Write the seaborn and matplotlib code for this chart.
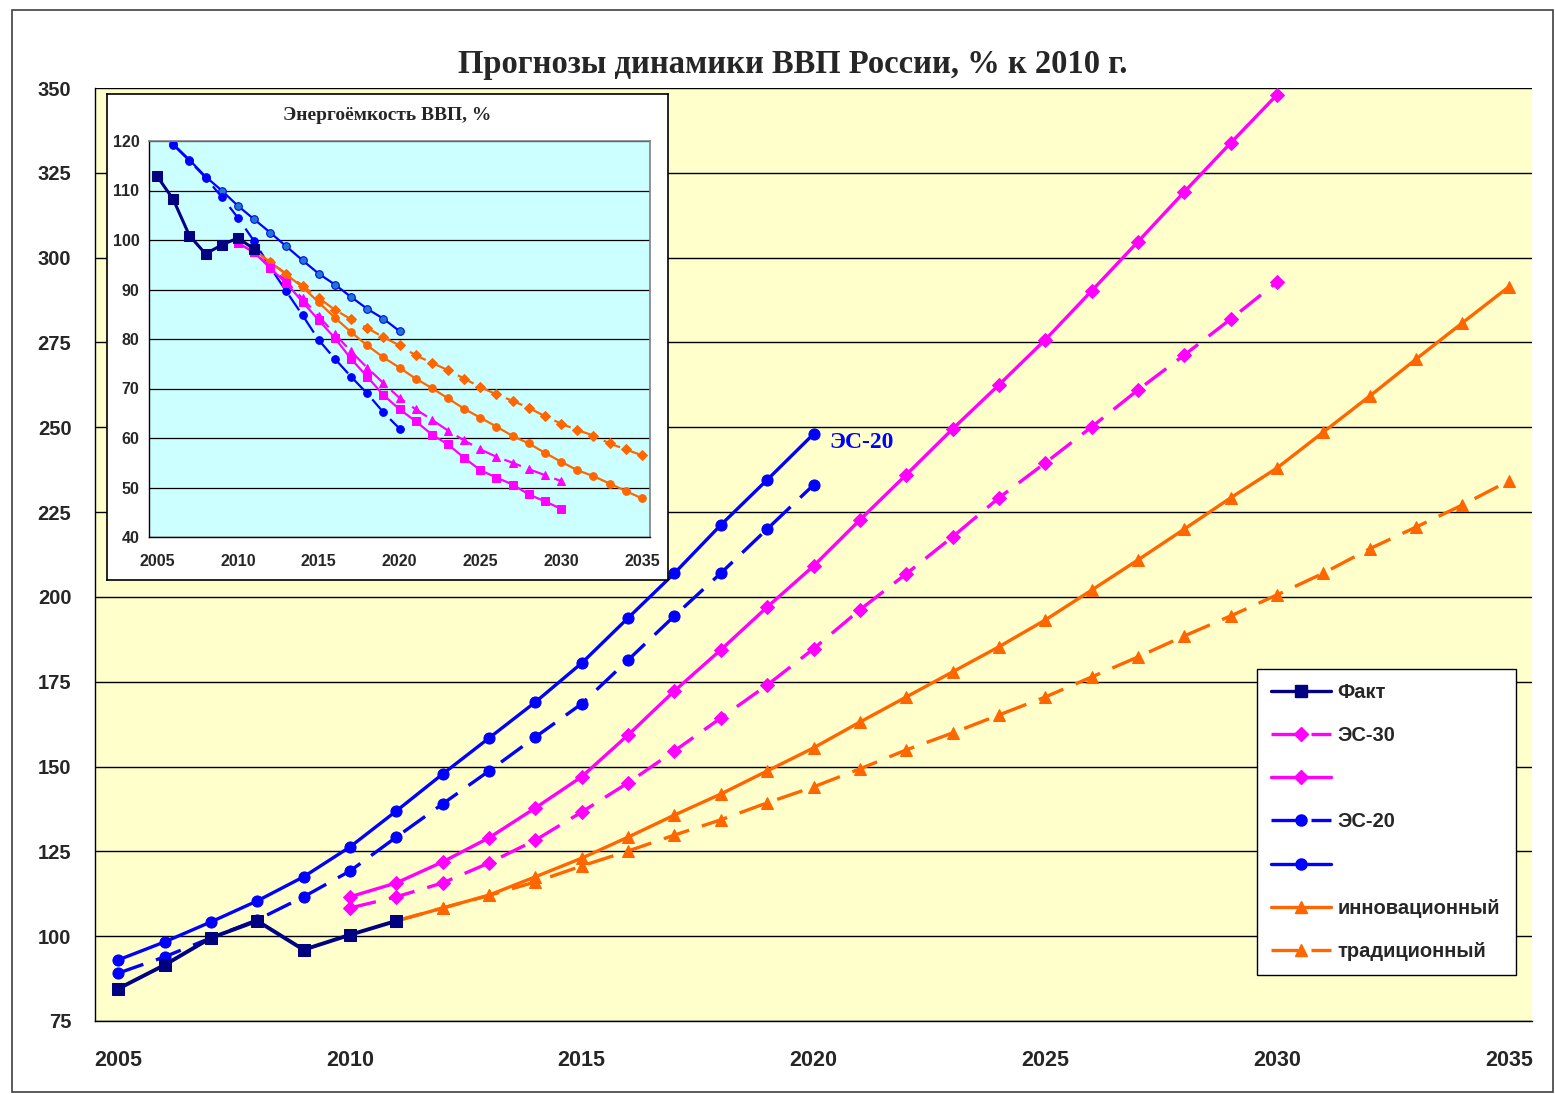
import numpy as np
import pandas as pd
import matplotlib
matplotlib.use('Agg')
import matplotlib.pyplot as plt
from matplotlib.lines import Line2D
from matplotlib.patches import Rectangle
import seaborn as sns

# Main chart data: GDP, % of 2010
years_fact = list(range(2005, 2012))
fact = [84.5, 91.5, 99.5, 104.5, 96.0, 100.4, 104.5]

years_es20 = list(range(2005, 2021))
es20_solid = [93.0, 98.3, 104.2, 110.4, 117.5, 126.3, 136.9, 147.8, 158.4, 169.0,
              180.5, 193.8, 207.0, 221.2, 234.5, 248.0]
es20_dashed = [89.1, 93.9, 99.5, 104.8, 111.6, 119.2, 129.2, 139.0, 148.7, 158.7,
               168.5, 181.4, 194.4, 207.0, 220.0, 233.0]

years_es30 = list(range(2010, 2031))
es30_solid = [111.6, 115.7, 121.9, 129.0, 137.8, 147.0, 159.3, 172.3, 184.4, 197.0,
              209.1, 222.7, 236.0, 249.5, 262.5, 275.8, 290.2, 304.7, 319.4, 333.8, 348.0]
es30_dashed = [108.3, 111.6, 115.7, 121.6, 128.3, 136.6, 145.2, 154.6, 164.3, 174.0,
               184.7, 196.2, 206.8, 217.7, 229.2, 239.5, 250.1, 261.0, 271.3, 281.9, 292.8]

years_sc = list(range(2011, 2036))
innov = [104.5, 108.3, 112.1, 117.5, 123.0, 129.2, 135.7, 141.9, 148.7, 155.5,
         163.1, 170.5, 177.9, 185.3, 193.2, 202.0, 210.9, 220.0, 229.2, 238.0,
         248.6, 259.2, 270.1, 280.8, 291.4]
trad = [104.5, 108.3, 112.0, 116.0, 120.7, 125.1, 129.8, 134.3, 139.3, 144.0,
        149.3, 154.9, 159.9, 165.2, 170.5, 176.4, 182.3, 188.5, 194.4, 200.6,
        207.0, 214.2, 220.6, 227.1, 234.2]

# Inset data: energy intensity of GDP, %
ei_fact = [112.9, 108.2, 100.9, 97.2, 99.0, 100.4, 98.2]
ei_es20_solid = [122.6, 119.4, 116.2, 112.8, 110.0, 106.9, 104.2, 101.5, 98.7, 95.9,
                 93.2, 91.0, 88.5, 86.1, 84.1, 81.6]
ei_es20_dashed = [122.4, 119.2, 116.0, 112.6, 108.7, 104.5, 99.8, 94.5, 89.6, 84.8,
                  79.8, 76.0, 72.4, 69.0, 65.2, 61.9]
ei_es30_solid = [99.4, 97.5, 94.3, 91.3, 87.5, 83.8, 80.2, 76.0, 72.4, 68.7, 65.8,
                 63.4, 60.7, 58.7, 56.0, 53.5, 52.0, 50.6, 48.6, 47.2, 45.7]
ei_es30_dashed = [99.4, 97.5, 94.6, 91.6, 88.2, 84.6, 81.0, 77.5, 74.2, 71.1, 68.1,
                  65.8, 63.7, 61.5, 59.5, 57.7, 56.2, 55.0, 53.7, 52.5, 51.3]
ei_innov = [98.0, 95.5, 93.0, 90.5, 87.4, 84.3, 81.4, 78.7, 76.3, 74.2, 72.0, 70.1,
            68.0, 65.9, 64.1, 62.3, 60.4, 58.9, 57.0, 55.2, 53.5, 52.3, 50.8, 49.3, 47.8]
ei_trad = [98.0, 95.5, 93.2, 90.8, 88.3, 85.9, 84.0, 82.2, 80.4, 78.7, 76.7, 75.2,
           73.7, 72.0, 70.3, 68.8, 67.5, 66.1, 64.4, 62.9, 61.6, 60.5, 58.9, 57.7, 56.5]

NAVY = '#000080'
MAG = '#FF00FF'
BLUE = '#0000FF'
ORANGE = '#FF6600'
DASH = (0, (8, 4))

sns.set_style('white')
plt.rcParams['font.family'] = ['Liberation Sans', 'DejaVu Sans']

fig = plt.figure(figsize=(15.55, 10.94), dpi=100)
fig.patches.append(Rectangle((12 / 1555, 2 / 1094), 1541 / 1555, 1082 / 1094,
                             transform=fig.transFigure, fill=False,
                             edgecolor='#404040', lw=1.2))

ax = fig.add_axes([95 / 1555, 1 - 1021 / 1094, 1437 / 1555, 933 / 1094])
ax.set_facecolor('#FFFFCC')

lw = 2.4
ms = 8
sns.lineplot(x=years_es20, y=es20_solid, ax=ax, color=BLUE, lw=lw,
             marker='o', markersize=ms, markeredgecolor=BLUE)
sns.lineplot(x=years_es20, y=es20_dashed, ax=ax, color=BLUE, lw=lw, linestyle=DASH,
             marker='o', markersize=ms, markeredgecolor=BLUE)
sns.lineplot(x=years_es30, y=es30_solid, ax=ax, color=MAG, lw=lw,
             marker='D', markersize=ms - 1, markeredgecolor=MAG)
sns.lineplot(x=years_es30, y=es30_dashed, ax=ax, color=MAG, lw=lw, linestyle=DASH,
             marker='D', markersize=ms - 1, markeredgecolor=MAG)
sns.lineplot(x=years_sc, y=innov, ax=ax, color=ORANGE, lw=lw,
             marker='^', markersize=ms + 1, markeredgecolor=ORANGE)
sns.lineplot(x=years_sc, y=trad, ax=ax, color=ORANGE, lw=lw, linestyle=DASH,
             marker='^', markersize=ms + 1, markeredgecolor=ORANGE)
sns.lineplot(x=years_fact, y=fact, ax=ax, color=NAVY, lw=lw + 0.4,
             marker='s', markersize=ms + 1, markeredgecolor=NAVY)

ax.set_xlim(2004.5, 2035.5)
ax.set_ylim(75, 350)
ax.set_yticks(np.arange(75, 351, 25))
ax.set_xticks(range(2005, 2036, 5))
ax.set_xticks(np.arange(2004.5, 2036, 1), minor=True)
ax.grid(axis='y', color='black', lw=1)
ax.set_axisbelow(True)
for s in ['top', 'right']:
    ax.spines[s].set_visible(False)
for s in ['left', 'bottom']:
    ax.spines[s].set_color('black')
    ax.spines[s].set_linewidth(1)
ax.tick_params(axis='y', which='major', direction='out', length=5, width=1,
               color='black', pad=12, labelsize=14.5)
ax.tick_params(axis='x', which='major', length=0, pad=21, labelsize=15.5)
ax.tick_params(axis='x', which='minor', direction='out', length=6, width=1, color='black')
for lab in ax.get_xticklabels() + ax.get_yticklabels():
    lab.set_fontweight('bold')
ax.set_xlabel('')
ax.set_ylabel('')

ax.text(2020.35, 245.4, 'ЭС-20', color=BLUE, fontsize=17, fontweight='bold',
        family='Liberation Serif', va='center', ha='left')

fig.text(793 / 1555, 1 - 64 / 1094, 'Прогнозы динамики ВВП России, % к 2010 г.',
         ha='center', va='center', fontsize=23.5, fontweight='bold', family='Liberation Serif')

# Legend
handles = [
    Line2D([], [], color=NAVY, lw=lw, marker='s', markersize=ms),
    Line2D([], [], color=MAG, lw=lw, linestyle=DASH, marker='D', markersize=ms - 1),
    Line2D([], [], color=MAG, lw=lw, marker='D', markersize=ms - 1),
    Line2D([], [], color=BLUE, lw=lw, linestyle=DASH, marker='o', markersize=ms),
    Line2D([], [], color=BLUE, lw=lw, marker='o', markersize=ms),
    Line2D([], [], color=ORANGE, lw=lw, marker='^', markersize=ms + 1),
    Line2D([], [], color=ORANGE, lw=lw, linestyle=DASH, marker='^', markersize=ms + 1),
]
labels = ['Факт', 'ЭС-30', ' ', 'ЭС-20', ' ', 'инновационный', 'традиционный']
leg = ax.legend(handles, labels, loc='lower left',
                bbox_to_anchor=(0.8086, 0.0493, 0.1804, 0.3257), mode='expand',
                frameon=True, fancybox=False, framealpha=1, edgecolor='black',
                facecolor='white', borderaxespad=0, handlelength=3.0, handletextpad=0.3,
                labelspacing=1.2, borderpad=0.7, prop={'weight': 'bold', 'size': 14.5})
leg.get_frame().set_linewidth(1)
leg.set_zorder(10)

# Inset: box and axes
box = fig.add_axes([107 / 1555, 1 - 580 / 1094, 561 / 1555, 486 / 1094])
box.set_facecolor('white')
box.set_xticks([])
box.set_yticks([])
for s in box.spines.values():
    s.set_color('black')
    s.set_linewidth(1.2)
box.set_zorder(5)
box.text(0.5, 1 - 22 / 486, 'Энергоёмкость ВВП, %', transform=box.transAxes,
         ha='center', va='center', fontsize=14, fontweight='bold', family='Liberation Serif')

ins = fig.add_axes([149 / 1555, 1 - 537 / 1094, 501 / 1555, 396 / 1094])
ins.set_zorder(6)
ins.set_facecolor('#CCFFFF')
ilw = 1.6
ims = 5.5
sns.lineplot(x=years_es20, y=ei_es20_solid, ax=ins, color=BLUE, lw=ilw,
             marker='o', markersize=ims, markerfacecolor='#1F78C8', markeredgecolor=BLUE)
sns.lineplot(x=years_es20, y=ei_es20_dashed, ax=ins, color=BLUE, lw=ilw, linestyle=DASH,
             marker='o', markersize=ims, markeredgecolor=BLUE)
sns.lineplot(x=years_sc, y=ei_trad, ax=ins, color=ORANGE, lw=ilw, linestyle=DASH,
             marker='D', markersize=ims - 0.5, markeredgecolor=ORANGE)
sns.lineplot(x=years_sc, y=ei_innov, ax=ins, color=ORANGE, lw=ilw,
             marker='o', markersize=ims, markeredgecolor=ORANGE)
sns.lineplot(x=years_es30, y=ei_es30_dashed, ax=ins, color=MAG, lw=ilw, linestyle=DASH,
             marker='^', markersize=ims + 0.5, markeredgecolor=MAG)
sns.lineplot(x=years_es30, y=ei_es30_solid, ax=ins, color=MAG, lw=ilw,
             marker='s', markersize=ims, markeredgecolor=MAG)
sns.lineplot(x=years_fact, y=ei_fact, ax=ins, color=NAVY, lw=ilw + 0.6,
             marker='s', markersize=ims + 1.5, markeredgecolor=NAVY)

ins.set_xlim(2004.5, 2035.5)
ins.set_ylim(40, 120)
ins.set_yticks(np.arange(40, 121, 10))
ins.set_xticks(range(2005, 2036, 5))
ins.set_xticks(np.arange(2004.5, 2036, 1), minor=True)
ins.grid(axis='y', color='black', lw=0.9)
ins.set_axisbelow(True)
for s in ['top', 'right']:
    ins.spines[s].set_color('#808080')
    ins.spines[s].set_linewidth(1.2)
for s in ['left', 'bottom']:
    ins.spines[s].set_color('black')
    ins.spines[s].set_linewidth(1)
ins.tick_params(axis='y', which='major', direction='out', length=4, width=1,
                color='black', pad=3, labelsize=11.5)
ins.tick_params(axis='x', which='major', length=0, pad=12, labelsize=11.5)
ins.tick_params(axis='x', which='minor', direction='out', length=4, width=1, color='black')
for lab in ins.get_xticklabels() + ins.get_yticklabels():
    lab.set_fontweight('bold')
ins.set_xlabel('')
ins.set_ylabel('')

fig.savefig('out.png', dpi=100)
